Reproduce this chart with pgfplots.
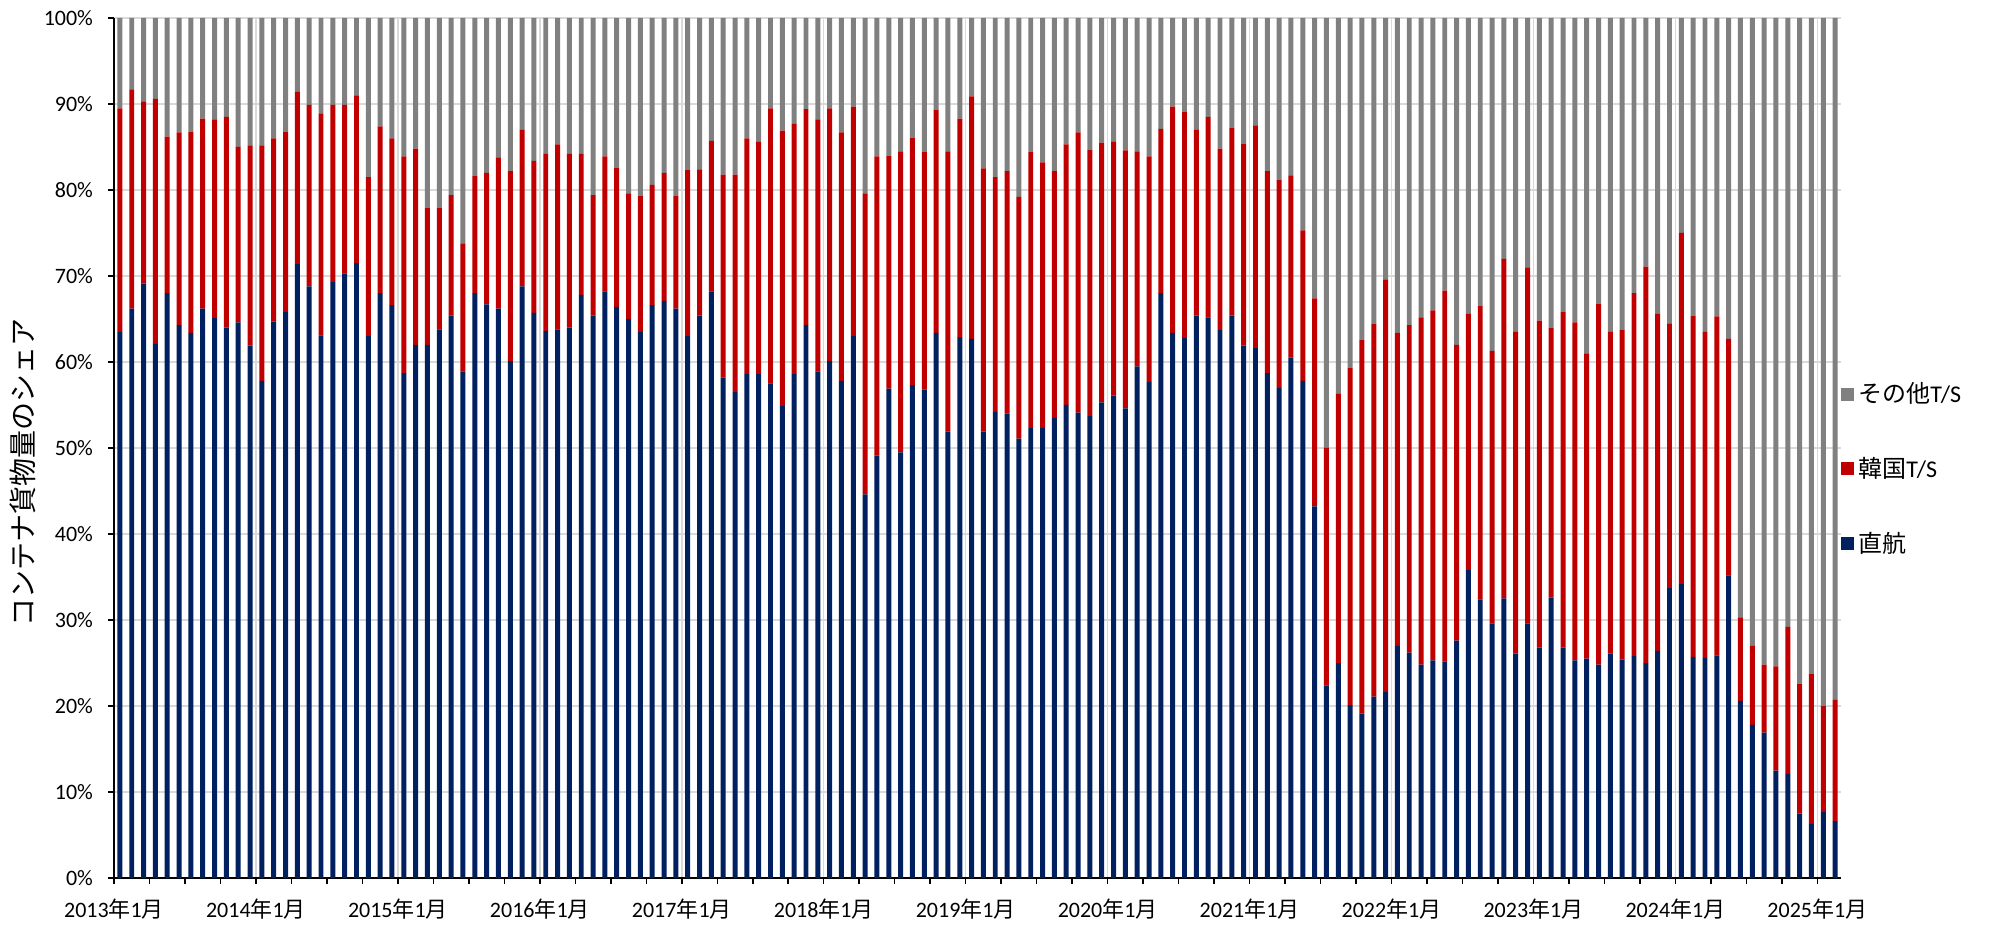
\documentclass[border=0pt]{standalone}
\usepackage{pgfplots}
\pgfplotsset{compat=1.18}
\usepackage{pgfplotstable}
\usepackage{fontspec}
\setmainfont{Carlito}
\newfontfamily\jp{Noto Sans CJK JP}
\definecolor{cBlue}{HTML}{002060}
\definecolor{cRed}{HTML}{C00000}
\definecolor{cGray}{HTML}{808080}
\definecolor{cGrid}{HTML}{D9D9D9}

\pgfplotstableread{
i blue red gray
0 63.5 26.0 10.5
1 66.2 25.5 8.3
2 69.1 21.2 9.7
3 62.1 28.5 9.4
4 68.0 18.2 13.8
5 64.3 22.4 13.3
6 63.4 23.4 13.2
7 66.2 22.1 11.7
8 65.1 23.1 11.8
9 64.0 24.5 11.5
10 64.6 20.4 15.0
11 61.9 23.3 14.8
12 57.8 27.4 14.8
13 64.7 21.3 14.0
14 65.8 21.0 13.2
15 71.4 20.0 8.6
16 68.8 21.1 10.1
17 63.1 25.8 11.1
18 69.3 20.6 10.1
19 70.3 19.6 10.1
20 71.5 19.5 9.0
21 63.0 18.5 18.5
22 68.0 19.4 12.6
23 66.6 19.4 14.0
24 58.7 25.2 16.1
25 62.0 22.8 15.2
26 62.0 15.9 22.1
27 63.8 14.1 22.1
28 65.4 14.0 20.6
29 58.9 14.9 26.2
30 68.0 13.6 18.4
31 66.7 15.3 18.0
32 66.2 17.6 16.2
33 60.1 22.1 17.8
34 68.8 18.2 13.0
35 65.7 17.7 16.6
36 63.6 20.6 15.8
37 63.8 21.5 14.7
38 64.0 20.2 15.8
39 67.8 16.4 15.8
40 65.4 14.0 20.6
41 68.2 15.7 16.1
42 66.4 16.2 17.4
43 65.0 14.6 20.4
44 63.5 15.8 20.7
45 66.6 14.0 19.4
46 67.1 14.9 18.0
47 66.2 13.1 20.7
48 63.0 19.3 17.7
49 65.4 17.0 17.6
50 68.2 17.5 14.3
51 58.2 23.6 18.2
52 56.5 25.3 18.2
53 58.6 27.4 14.0
54 58.6 27.0 14.4
55 57.5 32.0 10.5
56 54.9 32.0 13.1
57 58.6 29.1 12.3
58 64.3 25.1 10.6
59 58.9 29.3 11.8
60 60.1 29.4 10.5
61 57.8 28.9 13.3
62 63.0 26.7 10.3
63 44.6 35.0 20.4
64 49.1 34.8 16.1
65 56.9 27.1 16.0
66 49.5 35.0 15.5
67 57.3 28.8 13.9
68 56.8 27.6 15.6
69 63.4 25.9 10.7
70 51.9 32.6 15.5
71 62.9 25.4 11.7
72 62.7 28.2 9.1
73 51.9 30.6 17.5
74 54.2 27.3 18.5
75 54.0 28.2 17.8
76 51.1 28.1 20.8
77 52.3 32.1 15.6
78 52.3 30.9 16.8
79 53.5 28.7 17.8
80 55.0 30.3 14.7
81 54.1 32.6 13.3
82 53.7 31.0 15.3
83 55.3 30.2 14.5
84 56.1 29.5 14.4
85 54.6 30.0 15.4
86 59.5 25.0 15.5
87 57.7 26.2 16.1
88 68.0 19.1 12.9
89 63.4 26.3 10.3
90 62.8 26.3 10.9
91 65.4 21.6 13.0
92 65.2 23.3 11.5
93 63.7 21.1 15.2
94 65.4 21.8 12.8
95 61.9 23.5 14.6
96 61.6 25.9 12.5
97 58.7 23.5 17.8
98 57.0 24.2 18.8
99 60.5 21.2 18.3
100 57.8 17.5 24.7
101 43.2 24.2 32.6
102 22.4 27.6 50.0
103 25.0 31.3 43.7
104 20.1 39.2 40.7
105 19.1 43.5 37.4
106 21.1 43.3 35.6
107 21.6 48.0 30.4
108 27.0 36.4 36.6
109 26.2 38.1 35.7
110 24.8 40.4 34.8
111 25.3 40.7 34.0
112 25.2 43.1 31.7
113 27.6 34.4 38.0
114 35.8 29.8 34.4
115 32.4 34.1 33.5
116 29.6 31.7 38.7
117 32.5 39.5 28.0
118 26.1 37.4 36.5
119 29.6 41.4 29.0
120 26.8 38.0 35.2
121 32.6 31.4 36.0
122 26.8 39.0 34.2
123 25.3 39.3 35.4
124 25.5 35.5 39.0
125 24.8 42.0 33.2
126 26.1 37.4 36.5
127 25.4 38.3 36.3
128 25.8 42.2 32.0
129 25.0 46.1 28.9
130 26.4 39.2 34.4
131 33.7 30.8 35.5
132 34.2 40.8 25.0
133 25.7 39.7 34.6
134 25.6 37.9 36.5
135 25.9 39.4 34.7
136 35.2 27.5 37.3
137 20.6 9.7 69.7
138 17.8 9.2 73.0
139 16.9 7.9 75.2
140 12.5 12.1 75.4
141 12.1 17.1 70.8
142 7.5 15.1 77.4
143 6.3 17.4 76.3
144 7.7 12.3 80.0
145 6.6 14.1 79.3
}\data

\begin{document}
\begin{tikzpicture}
\useasboundingbox (0,0) rectangle (995.5pt,463.5pt);
\begin{axis}[
  at={(57pt,24.5pt)}, anchor=south west,
  scale only axis, width=863.5pt, height=430pt,
  ybar stacked, bar width=0.42,
  xmin=0, xmax=146, ymin=0, ymax=100,
  axis x line*=bottom, axis y line*=left,
  axis line style={-, black, line width=0.75pt},
  xtick={0,12,...,144},
  minor xtick={3,6,...,145},
  xticklabels={2013{\jp 年}1{\jp 月},2014{\jp 年}1{\jp 月},2015{\jp 年}1{\jp 月},2016{\jp 年}1{\jp 月},2017{\jp 年}1{\jp 月},2018{\jp 年}1{\jp 月},2019{\jp 年}1{\jp 月},2020{\jp 年}1{\jp 月},2021{\jp 年}1{\jp 月},2022{\jp 年}1{\jp 月},2023{\jp 年}1{\jp 月},2024{\jp 年}1{\jp 月},2025{\jp 年}1{\jp 月}},
  ytick={0,10,...,100},
  yticklabels={0\%,10\%,20\%,30\%,40\%,50\%,60\%,70\%,80\%,90\%,100\%},
  tick align=outside,
  major tick length=3pt, minor tick length=3pt,
  tick style={black, line width=0.75pt},
  xmajorgrids, ymajorgrids,
  major grid style={cGrid, line width=0.75pt},
  tick label style={font=\fontsize{11}{13}\selectfont},
  xticklabel style={yshift=-4pt},
  yticklabel style={xshift=-4pt},
  ylabel={\jp コンテナ貨物量のシェア},
  ylabel style={font=\fontsize{14}{16}\selectfont, at={(axis description cs:-0.0527,0.472)}, anchor=center},
  legend cell align=left,
  legend style={at={(axis description cs:1.0,0.4756)}, anchor=west, draw=none, fill=none,
    font=\fontsize{12}{14}\selectfont, row sep=21.8pt, inner sep=0pt},
  reverse legend,
]
\addplot[fill=cBlue, draw=none, legend image code/.code={\fill[cBlue] (0pt,-3.25pt) rectangle (6.5pt,3.25pt);}] table[x expr=\thisrow{i}+0.5, y=blue] {\data};
\addplot[fill=cRed, draw=none, legend image code/.code={\fill[cRed] (0pt,-3.25pt) rectangle (6.5pt,3.25pt);}] table[x expr=\thisrow{i}+0.5, y=red] {\data};
\addplot[fill=cGray, draw=none, legend image code/.code={\fill[cGray] (0pt,-3.25pt) rectangle (6.5pt,3.25pt);}] table[x expr=\thisrow{i}+0.5, y=gray] {\data};
\legend{{\jp 直航},{\jp 韓国}T/S,{\jp その他}T/S}
\end{axis}
\end{tikzpicture}
\end{document}
